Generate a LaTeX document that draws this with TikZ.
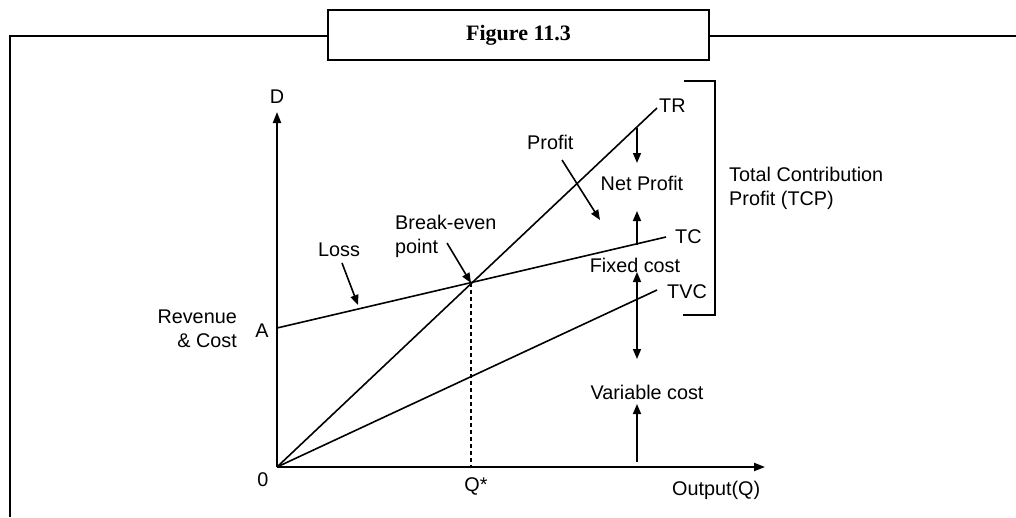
\documentclass[tikz,border=0pt]{standalone}
\usepackage{fontspec}
\setmainfont{Liberation Sans}
\newfontfamily\titlefont{Liberation Serif}
\usetikzlibrary{arrows.meta}
\tikzset{
  lbl/.style={inner sep=0pt, font=\fontsize{19.8}{23}\selectfont},
  frameline/.style={line width=2pt},
  axis/.style={line width=2pt, -{Triangle[length=11pt,width=8pt]}},
  curve/.style={line width=1.6pt},
  pointer/.style={line width=1.6pt, -{Triangle[length=10pt,width=8pt]}},
  dpointer/.style={line width=1.6pt, {Triangle[length=10pt,width=8pt]}-{Triangle[length=10pt,width=8pt]}},
}
\begin{document}
\begin{tikzpicture}[x=1pt,y=-1pt]
\useasboundingbox (0,0) rectangle (1016,517);
% frame
\draw[frameline] (10,517) -- (10,36) -- (1016,36);
\node[draw, fill=white, line width=2pt, minimum width=381pt, minimum height=50pt, inner sep=0pt,
      font=\titlefont\bfseries\fontsize{22}{26}\selectfont] (title) at (518.5,35) {Figure 11.3};
% coordinates
\coordinate (O) at (277,467);
\coordinate (Ytop) at (277,112);
\coordinate (Xend) at (765,467);
\coordinate (A) at (277,328);
\coordinate (TCe) at (666,237);
\coordinate (TRe) at (657,108);
\coordinate (TVCe) at (657,290);
\coordinate (BEP) at (471,283);
\coordinate (Qs) at (471,467);
% axes
\draw[axis] (O) -- (Ytop);
\draw[axis] (O) -- (Xend);
% curves
\draw[curve] (O) -- (TRe);
\draw[curve] (A) -- (TCe);
\draw[curve] (O) -- (TVCe);
\draw[line width=1.6pt, dash pattern=on 4pt off 3pt] (BEP) -- (Qs);
% axis labels
\node[lbl] (D) at (277,97) {D};
\node[lbl] (zero) at (263,480) {0};
\node[lbl] (Qstar) at (476,486) {Q*};
\node[lbl, anchor=west] (output) at (672,490) {Output(Q)};
\node[lbl] (Alab) at (262,331) {A};
\node[lbl, align=right, anchor=east] (rc) at (237,329) {Revenue\\[1pt]\,\& Cost};
% curve labels
\node[lbl, anchor=west] (TR) at (659,106) {TR};
\node[lbl, anchor=west] (TC) at (675,237) {TC};
\node[lbl, anchor=west] (TVC) at (667,292) {TVC};
% annotations
\node[lbl] (loss) at (339,250) {Loss};
\coordinate (lossS) at (342,263);
\coordinate (lossE) at (358,305);
\draw[pointer] (lossS) -- (lossE);
\node[lbl, align=left, anchor=west] (be) at (395,236) {Break-even\\[1pt]point};
\coordinate (beS) at (447,243);
\draw[pointer] (beS) -- (BEP);
\node[lbl, anchor=west] (profit) at (527,142) {Profit};
\coordinate (prS) at (562,160);
\coordinate (prE) at (600,220);
\draw[pointer] (prS) -- (prE);
\node[lbl] (np) at (642,183) {Net Profit};
\node[lbl] (fc) at (635,265) {Fixed cost};
\node[lbl] (vc) at (647,392) {Variable cost};
\coordinate (a1s) at (637,128); \coordinate (a1e) at (637,163);
\coordinate (a2s) at (637,245); \coordinate (a2e) at (637,211);
\coordinate (a3s) at (637,272); \coordinate (a3e) at (637,359);
\coordinate (a4s) at (637,462); \coordinate (a4e) at (637,404);
\draw[pointer] (a1s) -- (a1e);
\draw[pointer] (a2s) -- (a2e);
\draw[dpointer] (a3s) -- (a3e);
\draw[pointer] (a4s) -- (a4e);
% bracket
\coordinate (b1) at (684,81); \coordinate (b2) at (715,81);
\coordinate (b3) at (715,315); \coordinate (b4) at (683,315);
\draw[line width=1.6pt] (b1) -- (b2) -- (b3) -- (b4);
\node[lbl, align=left, anchor=west] (tcp) at (729,188) {Total Contribution\\[1pt]Profit (TCP)};
\end{tikzpicture}
\end{document}
